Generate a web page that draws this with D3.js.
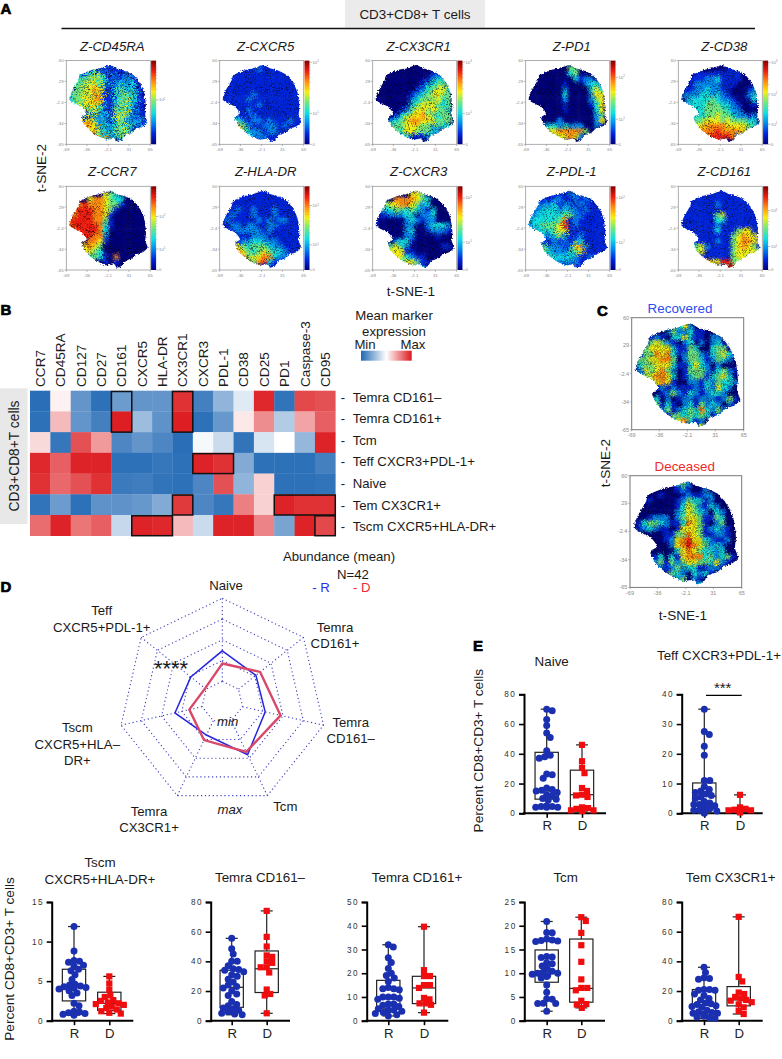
<!DOCTYPE html>
<html><head><meta charset="utf-8">
<style>html,body{margin:0;padding:0;background:#fff}svg{display:block}text{font-family:"Liberation Sans",Arial,sans-serif;fill:#1a1a1a}</style>
<script src="https://cdn.jsdelivr.net/npm/d3@7"></script></head><body>
<svg id="c" width="782" height="1059"></svg>
<script>
// ---------- DATA ----------
const tsneXTicks=[-69,-36,-2.1,31,65];
const tsneYTicks=[60,29,-2.4,-34,-65];
const tsneOutline=[[0.7,53.5],[11.3,48.5],[24.6,45],[38,38.5],[48.6,26],[55.5,11],[58.1,-9],[57,-21.5],[60.8,-31.5],[53.9,-38],[43.3,-41.5],[35.3,-48],[24.6,-51.5],[19.3,-59],[11.3,-61.5],[7.6,-56.5],[-4.6,-58],[-17.9,-53],[-28.6,-46.5],[-39.2,-36.5],[-44.5,-25],[-36.5,-19],[-44.5,-9],[-55.2,-4],[-64.2,2],[-60.5,13.5],[-49.8,31],[-47.2,38.5],[-28.6,46],[-15.3,48.5]];
const gridCD45RA=["1111111111111111","1111111211111111","1112344112021101","1234453312122101","1344554212323101","1445565213423210","2445465112434210","3445566113353210","3345554212533110","1134453114352210","1011122325542110","1145542213422321","1146652323533121","1115554324452011","1111264632432101","1111113312011111"];
const gridCXCR5=["1111111111111111","1111111211111111","1111111111111111","1111111111111111","1111111111111111","1111111111111111","1111112111111111","1111121111111111","1111111211111111","1111121111111111","1111112111111111","1123212212111211","1136421122212111","1116432212211111","1111132221111111","1111111111111111"];
const gridCX3CR1=["0000000000000000","0000000000000000","0000000000011100","0000000000123300","0000000001234420","0000000012345530","0000000123455440","0000000234445340","0000000345554340","0000012455454430","0000134556543440","0012345665554440","0034445554424330","0013435544432000","0001323111221000","0000001000000000"];
const gridPD1=["0000000000000000","0000000044000000","0000000034000000","0000000003122000","0000000100023320","0000000200003530","0000000300002550","0000000200002450","0000000100001350","0000000100000350","0000000000000240","0010002000000250","0002332322200210","0012556666640000","0001245565200000","0000012100000000"];
const gridCD38=["0000000000000000","0000000001110000","0001111111110000","0011122311110000","0112222211100010","0112232211000120","0222332321000230","0233334322100130","1233344433210010","1233344443220000","0023344544322120","0134455545444330","0035566665555430","0046666766665100","0001677777620000","0000027700000000"];
const gridCCR7=["0000000000000000","0000000543000000","0000566543300000","0067666544100000","0677766541000000","0677766510000000","6777766410000000","6777776310000000","6677776300000000","0667766200000000","0000665100000000","0065654000000000","0045543000000000","0001343106000000","0000000101000000","0000000000000000"];
const gridHLADR=["1111111111111111","1111111111111111","1111111111111111","1111111111111111","1112112111211111","1121112111211111","1211111212122111","1122122112211111","1112222212111111","1111112221111111","1111223322211111","1145434443221111","1166543454332111","1167645566322111","1111264673111111","1111111111111111"];
const gridCXCR3=["0000000000000000","0000000554000000","0000666654300000","0045566542300000","0233443432130000","0112223302230000","1000002321220000","1000002200233320","0000002300122210","0000002200001000","0000233100000000","0024532000000110","0035551100000000","0004553211000000","0000135541100000","0000000232000000"];
const gridPDL1=["1111111111111111","1111111122111111","1111122112121111","1122231221211111","1223332322121111","1233333442211111","2333334612111111","2334445712111111","1233345511111111","1122234211211111","1111121212311111","1124222125621111","1134322234511111","1112333332112111","1111122222111111","1111111111111111"];
const gridCD161=["1111111111111111","1111111111111111","1111111111111111","1111111211111111","1111111111111111","1111111451111111","1111111331111111","1111111211111111","1111111311145511","1111111111456551","1111111211456651","1134521111456541","1134511111455554","1111111111455431","1111665577444111","1111111128711111"];
const gridRecovered=["00000000000000000000","00000000352000000000","00000024223110000000","00012103353110220000","00145421023020231000","01455553114300344100","01446563124421345310","04455664024431243200","03445553113532020000","02545642014442134210","01456653013441345300","00145651002213243320","00001212111213253200","00000124213212332000","00003020122122212410","00054131023142320210","00013241234363242000","00000214434343121000","00000002563120120000","00000000011352000000"];
const gridDeceased=["00000000000000000000","00000000242000000000","00000000121002000000","00000100012112200000","00010000124331200000","00000000135421320000","00000000235432032000","00012220245541143000","01344321136541024000","01232110155541232100","00000011446541122100","00000012567553211200","00000002567654232000","00000000356543323000","00001303156663423410","00002414245544352100","00001212423311221000","00000014320323100000","00000001240210000000","00000000011230000000"];
const tsneTitles=["Z-CD45RA","Z-CXCR5","Z-CX3CR1","Z-PD1","Z-CD38","Z-CCR7","Z-HLA-DR","Z-CXCR3","Z-PDL-1","Z-CD161"];
const tsneGrids=[gridCD45RA,gridCXCR5,gridCX3CR1,gridPD1,gridCD38,gridCCR7,gridHLADR,gridCXCR3,gridPDL1,gridCD161];
const barTicks=[[[.53,2]],[[0,-1],[.37,1],[.98,2]],[[0,-1],[.37,1],[.98,3]],[[0,-1],[.3,1],[.8,2]],[[0,-1],[.24,1],[.6,2],[.98,3]],[[0,-1],[.25,1],[.64,2]],[[0,-1],[.3,1],[.77,2]],[[0,-1],[.33,1],[.86,2]],[[0,-1],[.33,1],[.86,2]],[[0,-1],[.28,1],[.71,2]]];

const heatCols=["CCR7","CD45RA","CD127","CD27","CD161","CXCR5","HLA-DR","CX3CR1","CXCR3","PDL-1","CD38","CD25","PD1","Caspase-3","CD95"];
const heatRows=["Temra CD161–","Temra CD161+","Tcm","Teff CXCR3+PDL-1+","Naive","Tem CX3CR1+","Tscm CXCR5+HLA-DR+"];
const heatValues=[
[.02,.53,.15,.03,.17,.15,.15,.95,.08,.25,.43,.97,.04,.90,.88],
[.03,.65,.15,.08,.99,.28,.14,.99,.03,.16,.55,.75,.33,.70,.85],
[.58,.05,.88,.72,.10,.15,.10,.02,.48,.38,.04,.41,.50,.26,.98],
[.97,.85,.98,.98,.03,.03,.05,.03,.98,.95,.22,.03,.03,.03,.08],
[.95,.83,.88,.95,.06,.07,.04,.03,.10,.88,.25,.60,.03,.03,.04],
[.04,.17,.03,.14,.14,.16,.22,.93,.10,.05,.78,.60,.98,.95,.95],
[.82,.98,.80,.85,.37,.98,.97,.65,.38,.98,.98,.77,.20,.98,.90]];
const heatHighlights=[[4,4,0,1],[7,7,0,1],[8,9,3,3],[7,7,5,5],[12,14,5,5],[5,6,6,6],[14,14,6,6]];

const radarAxes=["Naive","Temra CD161+","Temra CD161–","Tcm","Temra CX3CR1+","Tscm CXCR5+HLA–DR+","Teff CXCR5+PDL-1+"];
const radarRecovered=[2.47,2.07,2.12,2.81,1.76,2.34,1.94];
const radarDeceased=[1.86,2.33,2.88,2.66,2.03,1.63,1.06];
const radarRings=[1,2,3,4,5];

const naiveR=[70,69,63,59,54,51,42,39,38,37,26.5,26,23.5,17,16,15.5,15,14,12.5,12,10,9.5,9,5,4.5,4.5,4,4,4];
const naiveD=[46,35,30.5,27,17,15,12.5,12,11,4,3.5,3,2,2,1.5];
const naiveBox=[[9.5,15,41],[2.5,12.5,29]];
const teffR=[35,27.5,26.5,22.5,19.5,11,11,9,8,7.5,7,6.5,6,5.5,5,4,3.5,3,3,2.5,2.5,2,1.5,1,1,.8,.5,.3,0];
const teffD=[6.2,2,1.5,1.2,1,1,.9,.8,.8,.7,.6,.5,.3];
const teffBox=[[1.5,5.7,10.2],[.4,.8,1.2]];
const tscmR=[11.9,8.8,7.6,7.5,7.4,7,6.9,6.5,6.3,5.8,5.2,4.6,4.5,4.4,4.3,4.2,4.1,4,3.8,3.5,3.2,2.2,1.9,1.2,1.1,1,.9,.8,.7];
const tscmD=[5.6,4.7,3.9,3.2,3,2.6,2.5,2.3,2.2,2.1,2,1.8,1.6,1.4,1.2,1,.9];
const tscmBox=[[2.5,4.3,6.5],[1.3,2.2,3.6]];
const temraNegR=[55.5,48.5,45,40,40,37,35,34.5,34,33,31,30,28,26,24,23,22,20,18,17,13,11,10,8.5,8,7,6,5,4.5,4];
const temraNegD=[74,56.5,50,44,43,40,39,36,36,32.5,21,18,17,5];
const temraNegBox=[[9,22.5,34],[19,35,47]];
const temraPosR=[32,31,26.5,24.5,22,20,19,18,16.5,14,13.5,13.5,13,10,10,10,9.5,9,7,7,6.5,6,5,4.5,4.5,4,3.5,3,2.5,2];
const temraPosD=[39.6,21.3,18.8,18.8,15,15,13.8,9.6,9,7.3,6.7,7.3,3.4];
const temraPosBox=[[5,9.5,17],[7.2,13.8,18.7]];
const tcmR=[20.9,18.6,18.5,17.2,17,16.9,16.8,16.7,13.5,13.4,13.3,12.2,12,11.5,11,10.4,10.2,10,10,9.8,9.5,9.3,9,7.5,6,4.6,4.5,3.7,3.6,3.6,2];
const tcmD=[21.8,21,18.5,15.9,12.4,8.7,6.9,6.9,6.4,4.2,3.5,3.4,2.7];
const tcmBox=[[8.1,10.4,14.9],[3.9,6.8,17.2]];
const temR=[36,32.5,29,28.5,28,21,21,20.5,20.5,18,17,15,14,12,11.5,11,10,9.5,9,7,6,5.5,5,5,4.5,4,3.5,3,2.5,2,1.5];
const temD=[70,29.5,26.5,19,18,16,15,14,13.5,12.5,11,9,6.5,4.5];
const temBox=[[4.5,10.5,21],[10,14,23]];

// ---------- LAYOUT ----------
const svg=d3.select("#c");
const defs=svg.append("defs");
const FONT=13.2;
function txt(sel,x,y,s,o={}){
  const t=sel.append("text").attr("x",x).attr("y",y).attr("dy",".35em").attr("text-anchor",o.a||"middle")
    .attr("font-size",o.fs||FONT).text(s);
  if(o.i)t.attr("font-style","italic");
  if(o.b)t.attr("font-weight","bold");
  if(o.c)t.style("fill",o.c);
  if(o.rot!=null)t.attr("transform",`rotate(${o.rot} ${x} ${y})`);
  return t;
}
function letter(s,x,y){
  svg.append("text").attr("x",x).attr("y",y).attr("font-size",15).attr("font-weight","bold")
    .style("stroke","#000").style("stroke-width",.7).style("fill","#000").text(s);
}
letter("A",0.5,14);letter("B",0.5,315);letter("C",597,315.5);letter("D",0.5,592);letter("E",473,651);

svg.append("rect").attr("x",345).attr("y",0).attr("width",140).attr("height",27.5).attr("fill","#ebebeb");
txt(svg,415,14.5,"CD3+CD8+ T cells",{fs:13.4});
svg.append("line").attr("x1",61.5).attr("x2",755).attr("y1",28.5).attr("y2",28.5).attr("stroke","#111").attr("stroke-width",1.5);

// ---------- t-SNE maps ----------
const jetStops=["#00007c","#0024dc","#0088f0","#10e0e0","#70e880","#f4f010","#ff8c10","#ee1c10","#800000"];
const jet=d3.scaleLinear().domain(d3.range(jetStops.length)).range(jetStops);
const grad=defs.append("linearGradient").attr("id","jet").attr("x1",0).attr("x2",0).attr("y1",1).attr("y2",0);
jetStops.forEach((c,i)=>grad.append("stop").attr("offset",i/(jetStops.length-1)).attr("stop-color",c));
let fid=0;
function tsne(px,py,w,h,grid,o={}){
  const x=d3.scaleLinear().domain([-69,65]).range([px,px+w]);
  const y=d3.scaleLinear().domain([60,-65]).range([py,py+h]);
  const id="f"+(++fid);
  const f=defs.append("filter").attr("id",id).attr("x","-10%").attr("y","-10%").attr("width","120%").attr("height","120%")
    .attr("color-interpolation-filters","sRGB");
  f.append("feGaussianBlur").attr("in","SourceGraphic").attr("stdDeviation",o.blur||1.4).attr("result","b");
  f.append("feTurbulence").attr("type","fractalNoise").attr("baseFrequency",o.freq||1.1).attr("numOctaves",2).attr("seed",fid).attr("result","n");
  f.append("feDisplacementMap").attr("in","b").attr("in2","n").attr("scale",o.disp||8).attr("xChannelSelector","R").attr("yChannelSelector","G").attr("result","d");
  const k=o.speck||2.4,c=(1-k*.5+.35*(k/2.4)).toFixed(3);
  f.append("feTurbulence").attr("type","fractalNoise").attr("baseFrequency",.95).attr("numOctaves",1).attr("seed",fid+40);
  f.append("feColorMatrix").attr("values",`${k} 0 0 0 ${c-.35} ${k} 0 0 0 ${c-.35} ${k} 0 0 0 ${c-.35} 0 0 0 0 1`).attr("result","g");
  f.append("feBlend").attr("in","d").attr("in2","g").attr("mode","multiply").attr("result","m");
  f.append("feComposite").attr("in","m").attr("in2","d").attr("operator","in");
  const eid=id+"e";
  const e=defs.append("filter").attr("id",eid).attr("x","-10%").attr("y","-10%").attr("width","120%").attr("height","120%")
    .attr("color-interpolation-filters","sRGB");
  e.append("feTurbulence").attr("type","fractalNoise").attr("baseFrequency",.7).attr("numOctaves",2).attr("seed",fid+80).attr("result","n");
  e.append("feDisplacementMap").attr("in","SourceGraphic").attr("in2","n").attr("scale",3.5).attr("xChannelSelector","R").attr("yChannelSelector","G");
  defs.append("clipPath").attr("id","cp"+fid).append("path")
    .attr("d",d3.line().x(d=>x(d[0])).y(d=>y(d[1])).curve(d3.curveCardinalClosed.tension(.4))(tsneOutline));
  const n=grid.length;
  const gx=d3.scaleBand().domain(d3.range(n)).range([px,px+w]);
  const gy=d3.scaleBand().domain(d3.range(n)).range([py,py+h]);
  const g=svg.append("g").attr("filter",`url(#${eid})`).append("g").attr("clip-path",`url(#cp${fid})`).append("g").attr("filter",`url(#${id})`);
  grid.forEach((row,r)=>row.split("").forEach((ch,c)=>{
    g.append("rect").attr("x",gx(c)).attr("y",gy(r)).attr("width",gx.bandwidth()+.6).attr("height",gy.bandwidth()+.6).attr("fill",jet(+ch));
  }));
  const fs=o.fs||4.4,col="#8a8a8a";
  svg.append("rect").attr("x",px).attr("y",py).attr("width",w).attr("height",h).attr("fill","none").attr("stroke",o.frame||"#999").attr("stroke-width",o.fw||.8);
  const ax=svg.append("g");
  tsneXTicks.forEach(t=>{
    ax.append("line").attr("x1",x(t)).attr("x2",x(t)).attr("y1",py+h).attr("y2",py+h+1.8).attr("stroke",col).attr("stroke-width",.6);
    txt(ax,x(t),py+h+5.2,t,{fs,c:col});
  });
  tsneYTicks.forEach(t=>{
    ax.append("line").attr("x1",px-1.8).attr("x2",px).attr("y1",y(t)).attr("y2",y(t)).attr("stroke",col).attr("stroke-width",.6);
    txt(ax,px-2.6,y(t),t,{fs,c:col,a:"end"});
  });
}
function colorbar(px,py,h,ticks){
  const bx=px+.8,bw=5;
  svg.append("rect").attr("x",bx).attr("y",py).attr("width",bw).attr("height",h).attr("fill","url(#jet)");
  const s=d3.scaleLinear().domain([0,1]).range([py+h,py]);
  const col="#8a8a8a",g=svg.append("g");
  ticks.forEach((t,i)=>{
    g.append("line").attr("x1",bx+bw).attr("x2",bx+bw+2.4).attr("y1",s(t[0])).attr("y2",s(t[0])).attr("stroke",col).attr("stroke-width",.6);
    const l=txt(g,bx+bw+3,s(t[0]),t[1]<0?"0":"10",{fs:4.2,c:col,a:"start"});
    if(t[1]>=0)l.append("tspan").attr("font-size",3).attr("dy","-.5em").text(t[1]);
    const nxt=ticks[i+1];
    if(t[1]>0){
      const span=nxt?nxt[0]-t[0]:(ticks[i-1]&&ticks[i-1][1]>0?t[0]-ticks[i-1][0]:.42);
      d3.range(2,10).forEach(k=>{
        const f=t[0]+span*Math.log10(k);
        if(f<1)g.append("line").attr("x1",bx+bw).attr("x2",bx+bw+1.2).attr("y1",s(f)).attr("y2",s(f)).attr("stroke",col).attr("stroke-width",.4);
      });
    }
  });
}
const mapX=[66.3,219.7,372.7,525.7,678.3],mapY=[60.6,186.3];
const scatter=[22,10,10,5,7,6,7,6,12,6];
tsneTitles.forEach((name,i)=>{
  const c=i%5,r=Math.floor(i/5),px=mapX[c],py=mapY[r];
  tsne(px,py,84,83.7,tsneGrids[i],{disp:scatter[i]});
  colorbar(px+84,py,83.7,barTicks[i]);
  txt(svg,px+46,r?171:46,name,{i:1,fs:13.2});
});
txt(svg,41,168,"t-SNE-2",{rot:-90,fs:13.6});
txt(svg,411,291.5,"t-SNE-1",{fs:13.6});

tsne(631.7,317.7,112,112,gridRecovered,{fs:5.5,disp:6,blur:1.1,freq:.9,frame:"#777",fw:1,speck:1.4});
tsne(630,475.7,111.7,111.7,gridDeceased,{fs:5.5,disp:6,blur:1.1,freq:.9,frame:"#777",fw:1,speck:1.4});
txt(svg,680,308,"Recovered",{c:"#2b4cf0",fs:13.4});
txt(svg,684.7,466,"Deceased",{c:"#f02a2a",fs:13.4});
txt(svg,605,463,"t-SNE-2",{rot:-90,fs:13.6});
txt(svg,683,615,"t-SNE-1",{fs:13.6});

// ---------- Heatmap ----------
const hx=d3.scaleBand().domain(heatCols).range([30,335.3]);
const hy=d3.scaleBand().domain(heatRows).range([390.7,535.7]);
const hc=d3.scaleLinear().domain([0,.5,1]).range(["#2068b4","#ffffff","#dc1a1e"]);
svg.append("rect").attr("x",0).attr("y",388.3).attr("width",27.5).attr("height",135.7).attr("fill","#e8e8e8");
txt(svg,14,456,"CD3+CD8+T cells",{rot:-90,fs:13.8});
heatRows.forEach((r,i)=>heatCols.forEach((c,j)=>{
  svg.append("rect").attr("x",hx(c)).attr("y",hy(r)).attr("width",hx.bandwidth()+.3).attr("height",hy.bandwidth()+.3).attr("fill",hc(heatValues[i][j]));
}));
heatHighlights.forEach(([c0,c1,r0,r1])=>{
  svg.append("rect").attr("x",hx(heatCols[c0])).attr("y",hy(heatRows[r0])+.8)
    .attr("width",hx(heatCols[c1])+hx.bandwidth()-hx(heatCols[c0])).attr("height",hy(heatRows[r1])+hy.bandwidth()-hy(heatRows[r0])-.8)
    .attr("fill","none").attr("stroke","#111").attr("stroke-width",1.5);
});
heatCols.forEach(c=>{
  const x=hx(c)+hx.bandwidth()/2;
  svg.append("text").attr("transform",`translate(${x},387) rotate(-90)`).attr("dy",".35em").attr("font-size",13.6).text(c);
});
const labelY=d3.scalePoint().domain(heatRows).range([397,526.7]);
heatRows.forEach(r=>{
  txt(svg,343,labelY(r),"-",{fs:13});
  txt(svg,352.7,labelY(r),r,{a:"start",fs:13.2});
});
txt(svg,394,315.7,"Mean marker");
txt(svg,394,331.7,"expression");
txt(svg,365,344.7,"Min");txt(svg,413,344.7,"Max");
const lg=defs.append("linearGradient").attr("id","hl");
[0,.5,1].forEach(v=>lg.append("stop").attr("offset",v).attr("stop-color",hc(v)));
svg.append("rect").attr("x",361).attr("y",350.7).attr("width",50.7).attr("height",10).attr("fill","url(#hl)");

// ---------- Radar ----------
const cx=222.3,cy=702.1;
const rr=d3.scaleLinear().domain([0,5]).range([0,103.8]);
const ang=d3.scalePoint().domain(radarAxes).range([0,2*Math.PI*6/7]);
const rad=svg.append("g").attr("transform",`translate(${cx},${cy})`);
const lr=d3.lineRadial().curve(d3.curveLinearClosed);
const dotted={stroke:"#4040c0","stroke-width":1.1,"stroke-dasharray":"1.2 2.7",fill:"none"};
function sty(s,o){Object.entries(o).forEach(([k,v])=>s.attr(k,v));return s;}
radarRings.forEach(k=>{
  sty(rad.append("path").attr("d",lr(radarAxes.map(a=>[ang(a),rr(k)]))),dotted);
});
radarAxes.forEach(a=>{
  const t=ang(a);
  sty(rad.append("line").attr("x1",rr(1)*Math.sin(t)).attr("y1",-rr(1)*Math.cos(t)).attr("x2",rr(5)*Math.sin(t)).attr("y2",-rr(5)*Math.cos(t)),dotted);
});
rad.append("path").attr("d",lr(radarAxes.map((a,i)=>[ang(a),rr(radarRecovered[i])]))).attr("fill","none").attr("stroke","#2626dc").attr("stroke-width",1.5);
rad.append("path").attr("d",lr(radarAxes.map((a,i)=>[ang(a),rr(radarDeceased[i])]))).attr("fill","none").attr("stroke","#d9486a").attr("stroke-width",2.4);
txt(svg,226,585.7,"Naive");
txt(svg,101.7,610.7,"Teff");txt(svg,101.7,627,"CXCR5+PDL-1+");
txt(svg,335,627,"Temra");txt(svg,335,643.3,"CD161+");
txt(svg,350.7,722.3,"Temra");txt(svg,350.7,738.3,"CD161–");
txt(svg,285.3,806.7,"Tcm");
txt(svg,149,811.3,"Temra");txt(svg,149,827,"CX3CR1+");
txt(svg,77.3,727.7,"Tscm");txt(svg,77.3,744,"CXCR5+HLA–");txt(svg,77.3,760,"DR+");
txt(svg,227.7,721.7,"min",{i:1});txt(svg,230,809,"max",{i:1});
txt(svg,171,668,"****",{fs:22});
txt(svg,339,556.7,"Abundance (mean)");
txt(svg,353,574,"N=42");
txt(svg,321,587,"- R",{c:"#2b2bf0"});txt(svg,361.7,587,"- D",{c:"#f02a3a"});

// ---------- Box plots ----------
function swarm(vals,y,cx,minD){
  const placed=[];
  vals.slice().sort((a,b)=>d3.descending(a,b)).forEach(v=>{
    const py=y(v);let best=null;
    for(let k=0;k<=60;k++){
      const off=(k%2?1:-1)*Math.ceil(k/2)*.5;
      const px=cx+off;
      if(placed.every(p=>Math.hypot(p[0]-px,p[1]-py)>=minD)){best=px;break;}
    }
    placed.push([best==null?cx:best,py]);
  });
  return placed;
}
function boxplot(o){
  const g=svg.append("g");
  const y=d3.scaleLinear().domain([0,o.max]).range([o.y0,o.y1]);
  const x=d3.scalePoint().domain(["R","D"]).range([o.xR,o.xD]);
  const yAxis=d3.axisLeft(y).tickValues(o.ticks).tickSize(5).tickPadding(2.5).tickFormat(d3.format("d"));
  const ya=g.append("g").attr("transform",`translate(${o.ax},0)`).call(yAxis);
  ya.selectAll("path").attr("stroke","#000").attr("stroke-width",2);
  ya.selectAll("line").attr("stroke","#000").attr("stroke-width",1.6);
  ya.selectAll("text").attr("font-size",8.2).attr("letter-spacing",1.6).style("fill","#333").style("font-family","Liberation Sans");
  const xa=g.append("g").attr("transform",`translate(0,${o.y0})`).call(d3.axisBottom(x).tickSize(4.5).tickPadding(3));
  xa.select("path").remove();
  xa.selectAll("line").attr("stroke","#000").attr("stroke-width",1.6);
  xa.selectAll("text").attr("font-size",13.2).style("fill","#222").style("font-family","Liberation Sans");
  g.append("line").attr("x1",o.ax-1).attr("x2",o.end).attr("y1",o.y0).attr("y2",o.y0).attr("stroke","#000").attr("stroke-width",2);
  [["R",o.r,o.box[0],"#1a30b0"],["D",o.d,o.box[1],"#f00d10"]].forEach(([k,vals,b,col])=>{
    const c=x(k),lo=d3.min(vals),hi=d3.max(vals),bw=23.3;
    g.append("line").attr("x1",c).attr("x2",c).attr("y1",y(lo)).attr("y2",y(hi)).attr("stroke","#222").attr("stroke-width",1.2);
    [lo,hi].forEach(v=>g.append("line").attr("x1",c-6).attr("x2",c+6).attr("y1",y(v)).attr("y2",y(v)).attr("stroke","#222").attr("stroke-width",1.2));
    g.append("rect").attr("x",c-bw/2).attr("y",y(b[2])).attr("width",bw).attr("height",y(b[0])-y(b[2])).attr("fill","#fff").attr("stroke","#222").attr("stroke-width",1.2);
    g.append("line").attr("x1",c-bw/2).attr("x2",c+bw/2).attr("y1",y(b[1])).attr("y2",y(b[1])).attr("stroke","#222").attr("stroke-width",1.2);
    const pts=swarm(vals,y,c,k=="R"?5.4:5.6);
    if(k=="R")g.selectAll(null).data(pts).join("circle").attr("cx",d=>d[0]).attr("cy",d=>d[1]).attr("r",3.5).attr("fill",col);
    else g.selectAll(null).data(pts).join("rect").attr("x",d=>d[0]-3.1).attr("y",d=>d[1]-3.1).attr("width",6.2).attr("height",6.2).attr("fill",col);
  });
  o.title.forEach((t,i)=>txt(svg,o.tx,o.ty[i],t,{fs:13.4}));
  return {x,y};
}
const t1=[694.3,813.3],t2=[902,1020.7];
boxplot({r:naiveR,d:naiveD,box:naiveBox,max:80,ticks:[0,20,40,60,80],ax:524,end:606,xR:546.7,xD:582,y0:t1[1],y1:t1[0],title:["Naive"],tx:551.7,ty:[661]});
boxplot({r:teffR,d:teffD,box:teffBox,max:40,ticks:[0,10,20,30,40],ax:681.7,end:762.7,xR:704.3,xD:740,y0:t1[1],y1:t1[0],title:["Teff CXCR3+PDL-1+"],tx:719,ty:[655]});
svg.append("line").attr("x1",706).attr("x2",741.7).attr("y1",695.3).attr("y2",695.3).attr("stroke","#000").attr("stroke-width",1.2);
txt(svg,722.7,688,"***",{fs:15});
txt(svg,478.7,750.7,"Percent CD8+CD3+ T cells",{rot:-90,fs:13.6});
boxplot({r:tscmR,d:tscmD,box:tscmBox,max:15,ticks:[0,5,10,15],ax:51.7,end:133.3,xR:74,xD:109.3,y0:t2[1],y1:t2[0],title:["Tscm","CXCR5+HLA-DR+"],tx:100,ty:[862.7,879]});
boxplot({r:temraNegR,d:temraNegD,box:temraNegBox,max:80,ticks:[0,20,40,60,80],ax:210.7,end:290,xR:231.7,xD:266.7,y0:t2[1],y1:t2[0],title:["Temra CD161–"],tx:260,ty:[877.3]});
boxplot({r:temraPosR,d:temraPosD,box:temraPosBox,max:50,ticks:[0,10,20,30,40,50],ax:366.7,end:448.3,xR:388.3,xD:424,y0:t2[1],y1:t2[0],title:["Temra CD161+"],tx:417,ty:[877.3]});
boxplot({r:tcmR,d:tcmD,box:tcmBox,max:25,ticks:[0,5,10,15,20,25],ax:524.3,end:605,xR:546.7,xD:581.3,y0:t2[1],y1:t2[0],title:["Tcm"],tx:565.7,ty:[877.3]});
boxplot({r:temR,d:temD,box:temBox,max:80,ticks:[0,20,40,60,80],ax:681.7,end:762.7,xR:704,xD:738.7,y0:t2[1],y1:t2[0],title:["Tem CX3CR1+"],tx:730.7,ty:[877.3]});
txt(svg,9.3,959,"Percent CD8+CD3+ T cells",{rot:-90,fs:13.6});
</script></body></html>
